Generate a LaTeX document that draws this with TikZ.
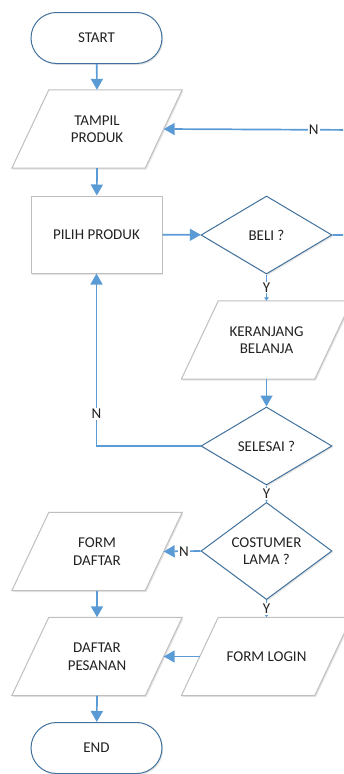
\documentclass[tikz,border=0pt]{standalone}
\usepackage{fontspec}
\setmainfont{Carlito}
\usetikzlibrary{shapes.geometric,shapes.misc,arrows.meta,shadows}

\definecolor{flow}{HTML}{5B9BD5}
\definecolor{edge}{HTML}{41719C}
\definecolor{boxline}{HTML}{BFBFBF}
\definecolor{ink}{HTML}{222222}

\pgfdeclarelayer{background}
\pgfsetlayers{background,main}

\tikzset{
  x=1pt, y=-1pt,
  every node/.style={font=\fontsize{15}{17.5}\selectfont, text=ink, align=center, inner sep=0pt},
  softshadow/.style={drop shadow={shadow xshift=1.2pt, shadow yshift=-1.5pt, fill=black, opacity=0.10}},
  terminal/.style={rounded rectangle, draw=edge, line width=1pt, fill=white, softshadow,
                   minimum width=131pt, minimum height=51pt},
  process/.style={rectangle, draw=boxline, line width=1pt, fill=white, softshadow,
                  minimum width=131pt, minimum height=77pt},
  % text area of a data box; the slanted outline is drawn on the background layer
  io/.style={rectangle, minimum width=133pt, minimum height=78pt},
  ioframe/.style={draw=boxline, line width=1pt, fill=white, softshadow},
  decision/.style={diamond, draw=edge, line width=1pt, fill=white, softshadow,
                   minimum width=131pt, minimum height=78pt},
  arr/.style={draw=flow, line width=1.7pt, -{Triangle[length=11pt,width=12pt]}},
  shortarr/.style={draw=flow, line width=1.4pt, -{Triangle[length=3.5pt,width=4.5pt]}},
  lbl/.style={fill=white, inner sep=1pt},
}

% slanted outline around a data node (top edge shifted right)
\newcommand\ioframe[1]{%
  \path[ioframe] ([xshift=-18.5pt]#1.south west) -- ([xshift=-18.5pt]#1.south east)
    -- ([xshift=18.5pt]#1.north east) -- ([xshift=18.5pt]#1.north west) -- cycle;}

\begin{document}
\begin{tikzpicture}
\clip (0,0) rectangle (343,774);

% left column
\node[terminal] (start)   at (96.5,38)    {START};
\node[io]       (tampil)  at (97,129)     {TAMPIL\\PRODUK};
\node[process]  (pilih)   at (96.5,234.5) {PILIH PRODUK};
\node[io]       (daftar)  at (97,551.5)   {FORM\\DAFTAR};
\node[io]       (pesanan) at (97,656.5)   {DAFTAR\\PESANAN};
\node[terminal] (end)     at (96.5,748)   {END};

% right column
\node[decision] (beli)      at (266.5,235)   {BELI ?};
\node[io]       (keranjang) at (266.5,340)   {KERANJANG\\BELANJA};
\node[decision] (selesai)   at (266.5,446)   {SELESAI ?};
\node[decision] (costumer)  at (266.5,551)   {COSTUMER\\LAMA ?};
\node[io]       (login)     at (266.5,656.5) {FORM LOGIN};

\begin{pgfonlayer}{background}
  \ioframe{tampil}
  \ioframe{daftar}
  \ioframe{pesanan}
  \ioframe{keranjang}
  \ioframe{login}
\end{pgfonlayer}

% return path on the right edge
\coordinate (r1) at (360,235);
\coordinate (r2) at (360,130);

% connectors
\draw[arr] (start) -- (tampil.north);
\draw[arr] (tampil.south) -- (pilih);
\draw[arr] (pilih) -- (beli);
\draw[shortarr] (beli.south) -- node[lbl]{Y} (keranjang.north);
\draw[arr] (keranjang.south) -- (selesai);
\draw[arr] (selesai.west) -| (pilih.south);
\node[lbl] (nback) at (96.5,414) {N};
\draw[shortarr] (selesai.south) -- node[lbl]{Y} (costumer.north);
\draw[arr] (costumer.west) -- node[lbl, pos=0.45]{N} (daftar.east);
\draw[shortarr] (costumer.south) -- node[lbl]{Y} (login.north);
\draw[arr] (daftar.south) -- (pesanan.north);
\draw[arr] (login.west) -- (pesanan.east);
\draw[arr] (pesanan.south) -- (end);
\draw[arr] (beli.east) -- (r1) -- (r2) -- node[lbl, pos=0.236]{N} (tampil.east);
\end{tikzpicture}
\end{document}
